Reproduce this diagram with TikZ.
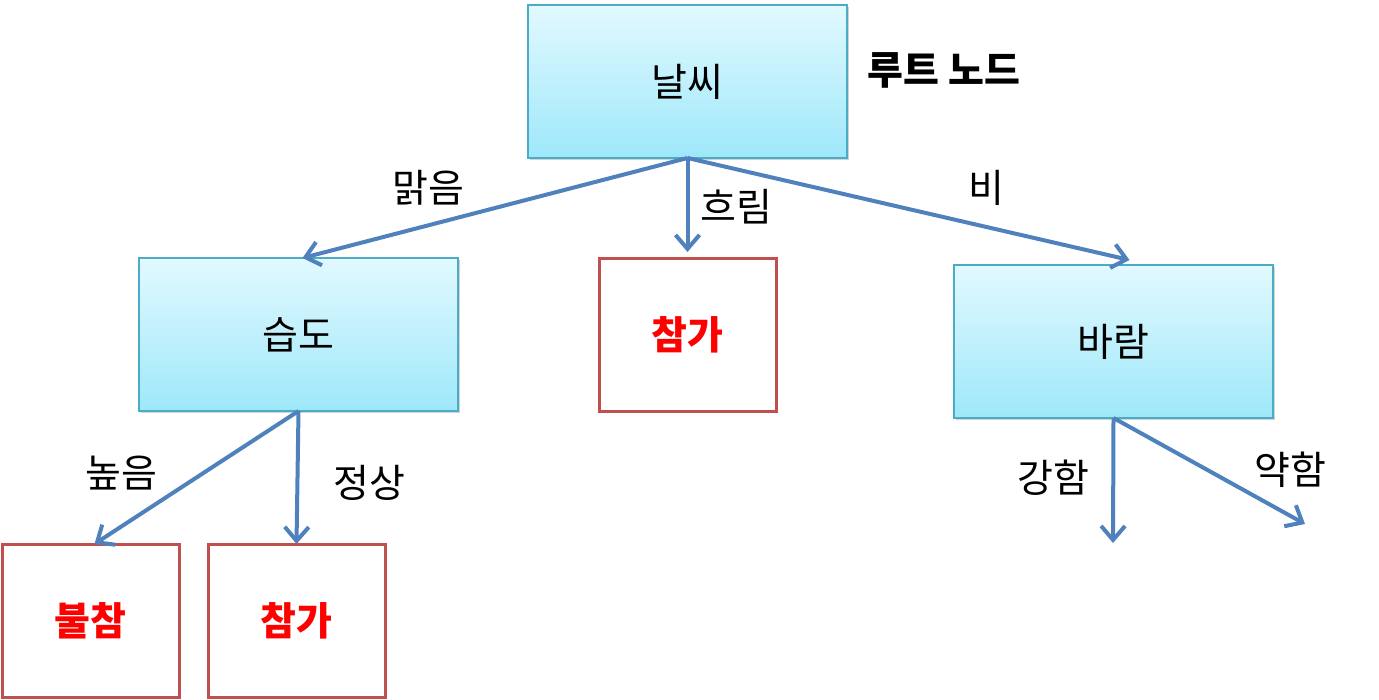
\documentclass[tikz,border=0pt]{standalone}
\usepackage{fontspec}
\setmainfont{Noto Sans CJK KR}
\usepackage{tikz}
\usetikzlibrary{arrows.meta,shadows}
\definecolor{attrtop}{RGB}{226,249,255}
\definecolor{attrbot}{RGB}{158,232,250}
\definecolor{attrline}{RGB}{75,172,198}
\definecolor{leafline}{RGB}{192,80,77}
\definecolor{branchblue}{RGB}{79,129,189}
\newcommand*\attrwd{159.5pt}
\newcommand*\leafwd{88.5pt}
\newcommand*\boxht {76.5pt}
\newcommand*\labfont{\fontsize{19.5}{22}\selectfont}
\tikzset{
    attr/.style   = {draw=attrline, line width=0.9pt,
                    top color=attrtop, bottom color=attrbot,
                    minimum width=\attrwd, minimum height=\boxht,
                    inner sep=0pt, outer sep=0pt,
                    font=\labfont,
                    drop shadow={shadow xshift=1.2pt, shadow yshift=-1.2pt, opacity=0.35}},
    leaf/.style   = {draw=leafline, line width=1.5pt, fill=white,
                    minimum width=\leafwd, minimum height=\boxht,
                    inner sep=0pt, outer sep=0pt,
                    text=red, font=\labfont\bfseries},
    edgelabel/.style = {font=\labfont, inner sep=0pt},
    branch/.style = {draw=branchblue, line width=2pt,
                    -{Straight Barb[length=7pt, width=12pt, line width=2pt]}},
  }

\begin{document}
\begin{tikzpicture}[x=0.5pt, y=-0.5pt]
    \useasboundingbox (0,0) rectangle (1379,700);

    % attribute nodes (blue) and leaves (red)
    \node[attr] (weather) at (687.5,81.5)  {날씨};
    \node[attr] (humid)   at (298.5,334.5) {습도};
    \node[attr] (wind)    at (1113.5,341.5){바람};
    \node[leaf] (yesmid)  at (687.5,334.5) {참가};
    \node[leaf] (nohigh)  at (90.5,620.5)  {불참};
    \node[leaf] (yesnorm) at (296.5,620.5) {참가};

    % root caption
    \node[font=\labfont\bfseries, inner sep=0pt] (rootcap) at (944,70) {루트 노드};

    % free ends below the wind node
    \coordinate (strong) at (1113,543);
    \coordinate (weak)   at (1305,524);

    % branches
    \draw[branch] (weather.south) -- ([xshift=2pt]humid.north);
    \draw[branch, shorten >=3pt] (weather.south) -- (yesmid.north);
    \draw[branch] (weather.south) -- ([xshift=8pt,yshift=2.5pt]wind.north);
    \draw[branch] (humid.south) -- ([xshift=2pt]nohigh.north);
    \draw[branch] (humid.south) -- (yesnorm.north);
    \draw[branch] (wind.south) -- (strong);
    \draw[branch] (wind.south) -- (weak);

    % branch labels
    \foreach \t/\x/\y/\n in {맑음/428/188/lsunny, 흐림/736/207/lcloudy, 비/986/188/lrain,
                             높음/121/473/lhigh, 정상/369/483/lnormal,
                             강함/1053/478/lstrong, 약함/1290/470/lweak} {
        \node[edgelabel] (\n) at (\x,\y) {\t};
    }
\end{tikzpicture}
\end{document}
